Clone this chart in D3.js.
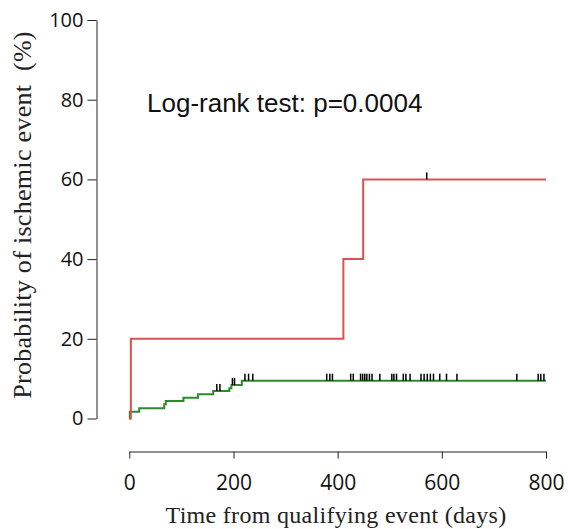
<!DOCTYPE html>
<html>
<head>
<meta charset="utf-8">
<script src="https://cdn.jsdelivr.net/npm/d3@7"></script>
<style>
  body { margin: 0; background: #fff; }
</style>
</head>
<body>
<svg id="drawing_region"></svg>
<script>
// Kaplan-Meier style cumulative incidence
const xTicks = [0, 200, 400, 600, 800];
const yTicks = [0, 20, 40, 60, 80, 100];

// red group
const redEventDays = [0, 3, 411, 449];
const redEventProb = [0, 20, 40, 60];
const redEndDay = 800;
const redCensorDays = [571];

// green group
const greenEventDays = [0, 1, 19, 67, 70, 104, 132, 161, 192, 196, 216];
const greenEventProb = [0, 1.7, 2.6, 3.6, 4.4, 5.2, 6.1, 6.9, 7.6, 8.4, 9.5];
const greenEndDay = 800;
const greenCensorDays = [168, 174, 198, 202, 222, 229, 237, 379, 385, 390, 425, 430,
  444, 448, 452, 456, 461, 466, 481, 504, 508, 513, 526, 531, 539, 560, 566, 572,
  578, 584, 596, 609, 629, 744, 785, 790, 796];

const annotation = 'Log-rank test: p=0.0004';
const xTitle = 'Time from qualifying event (days)';
const yTitle = 'Probability of ischemic event\u00a0 (%)';

const config = {
  width: 568,
  height: 529
};

const svg = d3.select('#drawing_region')
  .attr('width', config.width)
  .attr('height', config.height);

const xscale = d3.scaleLinear()
  .domain([0, 800])
  .range([129.3, 546]);

const yscale = d3.scaleLinear()
  .domain([0, 100])
  .range([418.5, 20]);

// axes
const xaxis = d3.axisBottom(xscale)
  .tickValues(xTicks)
  .tickSize(7)
  .tickSizeOuter(0)
  .tickPadding(17);

const yaxis = d3.axisLeft(yscale)
  .tickValues(yTicks)
  .tickSize(9)
  .tickSizeOuter(0)
  .tickPadding(4);

const xaxis_group = svg.append('g')
  .attr('transform', 'translate(0, 451.5)')
  .call(xaxis);

const yaxis_group = svg.append('g')
  .attr('transform', 'translate(96.5, 0)')
  .call(yaxis);

[xaxis_group, yaxis_group].forEach(g => {
  g.selectAll('path, line').attr('stroke', '#222').attr('stroke-width', 1);
  g.selectAll('text')
    .attr('fill', '#111')
    .style('font-family', '"Open Sans", sans-serif')
    .style('font-size', '20px');
});
xaxis_group.selectAll('text').style('font-size', '21px');

// step curves
function toPoints(days, probs, endDay) {
  const pts = days.map((d, i) => ({day: d, p: probs[i]}));
  pts.push({day: endDay, p: probs[probs.length - 1]});
  return pts;
}

function levelAt(days, probs, day) {
  let p = probs[0];
  days.forEach((d, i) => { if (d <= day) p = probs[i]; });
  return p;
}

const line = d3.line()
  .x(d => xscale(d.day))
  .y(d => yscale(d.p))
  .curve(d3.curveStepAfter);

svg.append('path')
  .attr('d', line(toPoints(greenEventDays, greenEventProb, greenEndDay)))
  .attr('stroke', '#2b8a2b')
  .attr('stroke-width', 2)
  .attr('fill', 'none');

svg.append('path')
  .attr('d', line(toPoints(redEventDays, redEventProb, redEndDay)))
  .attr('stroke', '#d9534f')
  .attr('stroke-width', 2)
  .attr('fill', 'none');

// censor marks
function drawCensors(censorDays, days, probs) {
  svg.append('g')
    .selectAll('line')
    .data(censorDays)
    .enter()
    .append('line')
    .attr('x1', d => xscale(d))
    .attr('x2', d => xscale(d))
    .attr('y1', d => yscale(levelAt(days, probs, d)) - 7)
    .attr('y2', d => yscale(levelAt(days, probs, d)))
    .attr('stroke', '#000')
    .attr('stroke-width', 1.5);
}
drawCensors(greenCensorDays, greenEventDays, greenEventProb);
drawCensors(redCensorDays, redEventDays, redEventProb);

// texts
svg.append('text')
  .attr('x', 147)
  .attr('y', 112)
  .style('font-family', '"Liberation Sans", Arial, sans-serif')
  .style('font-size', '26px')
  .attr('fill', '#111')
  .text(annotation);

svg.append('text')
  .attr('x', 336)
  .attr('y', 523)
  .attr('text-anchor', 'middle')
  .style('font-family', '"Liberation Serif", serif')
  .style('font-size', '24px')
  .style('letter-spacing', '0.3px')
  .attr('fill', '#222')
  .text(xTitle);

svg.append('text')
  .attr('transform', 'translate(31, 215) rotate(-90)')
  .attr('text-anchor', 'middle')
  .style('font-family', '"Liberation Serif", serif')
  .style('font-size', '26px')
  .style('letter-spacing', '0.3px')
  .attr('fill', '#222')
  .text(yTitle);
</script>
</body>
</html>
